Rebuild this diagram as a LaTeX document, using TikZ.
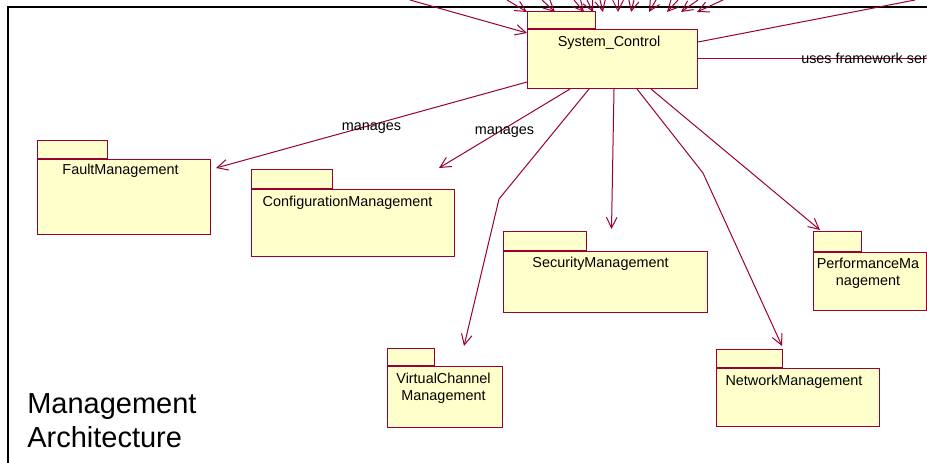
\documentclass[tikz,border=0pt]{standalone}
\usepackage{fontspec}
\setmainfont{Liberation Sans}
\usetikzlibrary{arrows.meta, calc}
\definecolor{roseline}{HTML}{990033}
\definecolor{rosefill}{HTML}{FFFFCC}

\begin{document}
\begin{tikzpicture}[x=.75pt, y=-.75pt, >={Straight Barb[length=8pt,width=8pt]},
  font=\fontsize{10.8}{12.5}\selectfont,
  pkg/.style={draw=roseline, fill=rosefill, line width=.75pt, inner sep=0pt, anchor=north west},
  pkgsize/.style 2 args={minimum width=#1*.75pt, minimum height=#2*.75pt},
  pkgtab/.style={pkg, anchor=south west},
  pkgname/.style={inner sep=0pt, align=center},
  assoc/.style={draw=roseline, line width=.75pt},
  dep/.style={assoc, ->},
  frame/.style={draw=black, line width=1.5pt}]
  \useasboundingbox (0,0) rectangle (927,462);
  \clip (0,0) rectangle (927,462);

  % Rahmen
  \draw[frame] (8,500) -- (8,7) -- (960,7);

  % Pakete
  \node[pkg, pkgsize={170}{59}] (sysctl) at (527,29) {};
  \node[pkgtab, pkgsize={68}{17}] (sysctltab) at (sysctl.north west) {};
  \node[pkgname] (sysctlname) at ($(sysctl.north)+(-3.5,13.5)$) {System\_Control};

  \node[pkg, pkgsize={173}{75}] (fault) at (37,159) {};
  \node[pkgtab, pkgsize={70}{18}] (faulttab) at (fault.north west) {};
  \node[pkgname] (faultname) at ($(fault.north)+(-3.5,11.5)$) {FaultManagement};

  \node[pkg, pkgsize={203}{67}] (config) at (251,189) {};
  \node[pkgtab, pkgsize={81}{19}] (configtab) at (config.north west) {};
  \node[pkgname] (configname) at ($(config.north)+(-5.5,13.5)$) {ConfigurationManagement};

  \node[pkg, pkgsize={204}{61}] (security) at (503,251) {};
  \node[pkgtab, pkgsize={83}{19}] (securitytab) at (security.north west) {};
  \node[pkgname] (securityname) at ($(security.north)+(-5,12.5)$) {SecurityManagement};

  \node[pkg, pkgsize={113}{58}] (perf) at (813,252) {};
  \node[pkgtab, pkgsize={48}{20}] (perftab) at (perf.north west) {};
  \node[pkgname] (perfname) at ($(perf.north)+(-2,21)$) {PerformanceMa\\nagement};

  \node[pkg, pkgsize={115}{61}] (vcm) at (387,366) {};
  \node[pkgtab, pkgsize={47}{17}] (vcmtab) at (vcm.north west) {};
  \node[pkgname] (vcmname) at ($(vcm.north)+(-1.5,22.5)$) {VirtualChannel\\Management};

  \node[pkg, pkgsize={163}{58}] (net) at (716,368) {};
  \node[pkgtab, pkgsize={66}{18}] (nettab) at (net.north west) {};
  \node[pkgname] (netname) at ($(net.north)+(-4,13.5)$) {NetworkManagement};

  % Titel
  \node[anchor=west, align=left, inner sep=0pt, font=\fontsize{21.75}{25.5}\selectfont]
    (title) at (27,421) {Management\\Architecture};

  % Abhaengigkeiten nach unten
  \coordinate (vcmbend) at (499,199);
  \coordinate (netbend) at (703,173);
  \draw[dep] ($(sysctl.south west)+(0,-7)$) -- node[pkgname, yshift=-2.5pt] (managesfault) {manages} ($(fault.north east)+(5,9)$);
  \draw[dep] ($(sysctl.south west)+(43,0)$) -- node[pkgname, yshift=-2.5pt] (managesconfig) {manages} ($(config.north east)+(-16,-21)$);
  \draw[dep] ($(sysctl.south west)+(62,0)$) -- (vcmbend) -- ($(vcmtab.north east)+(29,-2)$);
  \draw[dep] ($(sysctl.south west)+(87,0)$) -- ($(security.north)+(6,-22)$);
  \draw[dep] ($(sysctl.south west)+(110,0)$) -- (netbend) -- ($(nettab.north east)+(-1,-3)$);
  \draw[dep] ($(sysctl.south west)+(124,0)$) -- ($(perftab.north west)+(7,-1)$);

  % Abhaengigkeiten von oben
  \foreach \src/\tip [count=\i] in {507/0, 542/28, 574/57, 587/66, 600/76, 618/91,
                                    634/104, 656/122, 678/140, 698/154, 723/170} {
    \coordinate (in\i) at (\src,0);
    \draw[dep] (in\i) -- ($(sysctltab.north west)+(\tip,1)$);
  }
  \coordinate (inleft) at (410,0);
  \draw[dep] (inleft) -- ($(sysctl.north west)+(0,4)$);

  % nach rechts
  \coordinate (outright) at (915,0);
  \coordinate (fwright) at (960,58);
  \draw[assoc] ($(sysctl.north east)+(0,13)$) -- (outright);
  \draw[assoc] ($(sysctl.north east)+(0,29)$) -- (fwright);
  \node[anchor=west, inner sep=0pt] (usesfw) at (801,58.5) {uses framework ser};
\end{tikzpicture}
\end{document}
